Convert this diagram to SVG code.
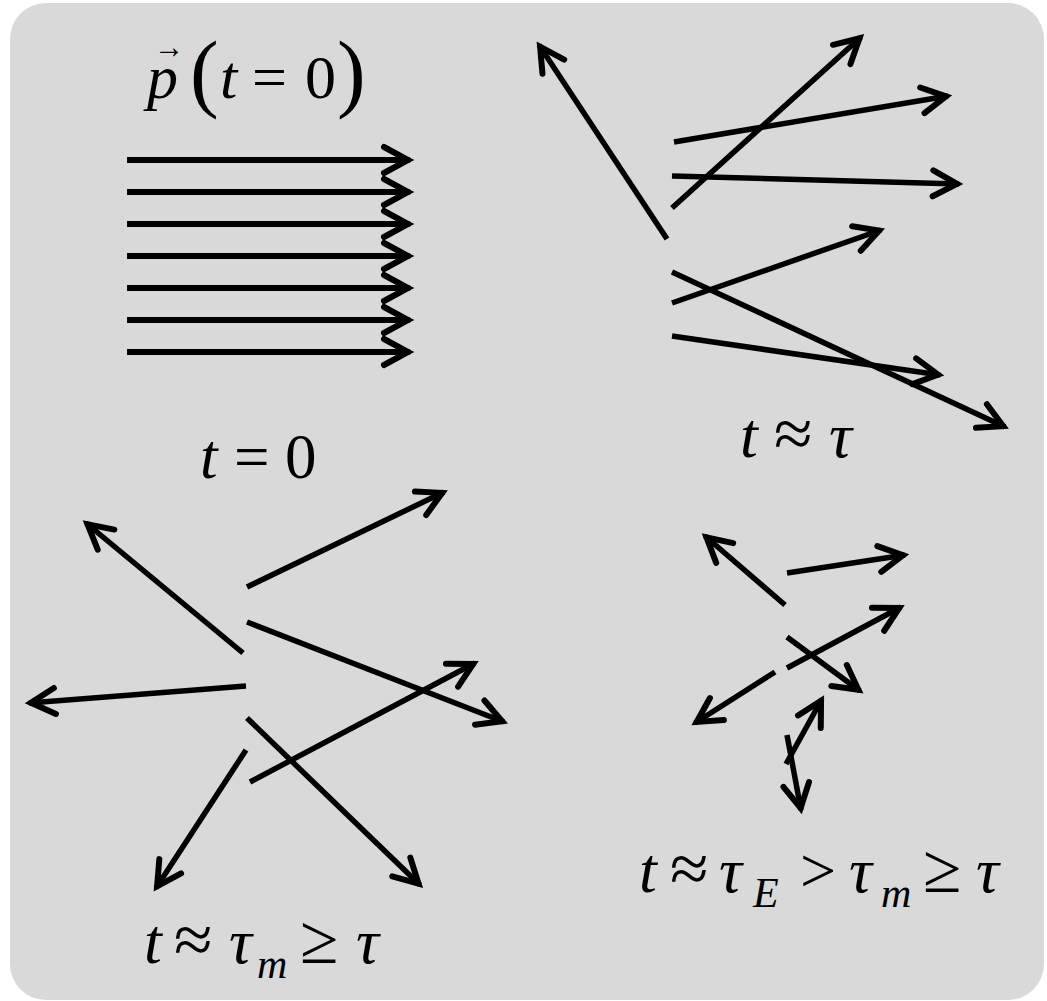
<svg xmlns="http://www.w3.org/2000/svg" width="1047" height="1001" viewBox="0 0 1047 1001">
<defs>
<style>
.a{stroke:#000;stroke-width:5.5;fill:none;marker-end:url(#ah)}
.h{stroke-width:6}
.s{font-family:"Liberation Serif","Times New Roman",serif;fill:#000}
.i{font-style:italic}
.r{font-size:70px}
</style>
<marker id="ah" markerUnits="userSpaceOnUse" orient="auto" overflow="visible" markerWidth="30" markerHeight="30" refX="0" refY="0">
<path d="M-26,-13 L-2,0 L-26,13" fill="none" stroke="#000" stroke-width="6" stroke-linejoin="miter" stroke-linecap="round"/>
</marker>
</defs>
<rect id="background" x="10" y="3" width="1034" height="997" rx="36" ry="36" fill="#d9d9d9"/>

<g id="connectors">
<g id="initial">
<line class="a h" x1="127" y1="160" x2="410" y2="160"/>
<line class="a h" x1="127" y1="192" x2="410" y2="192"/>
<line class="a h" x1="127" y1="224" x2="410" y2="224"/>
<line class="a h" x1="127" y1="256" x2="410" y2="256"/>
<line class="a h" x1="127" y1="288" x2="410" y2="288"/>
<line class="a h" x1="127" y1="320" x2="410" y2="320"/>
<line class="a h" x1="127" y1="352" x2="410" y2="352"/>
</g>
<g id="tau">
<line class="a" x1="667" y1="239" x2="539" y2="45"/>
<line class="a" x1="672" y1="208" x2="861" y2="37"/>
<line class="a" x1="674" y1="142" x2="948" y2="96"/>
<line class="a" x1="672" y1="176" x2="959" y2="184"/>
<line class="a" x1="672" y1="303" x2="881" y2="230"/>
<line class="a" x1="672" y1="272" x2="1005" y2="427"/>
<line class="a" x1="672" y1="336" x2="940" y2="375"/>
</g>
<g id="taum">
<line class="a" x1="243" y1="653" x2="86" y2="523"/>
<line class="a" x1="247" y1="587" x2="444" y2="492"/>
<line class="a" x1="247" y1="622" x2="504" y2="722"/>
<line class="a" x1="246" y1="686" x2="29" y2="703"/>
<line class="a" x1="247" y1="718" x2="420" y2="885"/>
<line class="a" x1="246" y1="750" x2="156" y2="888"/>
<line class="a" x1="250" y1="782" x2="475" y2="663"/>
</g>
<g id="tauE">
<line class="a" x1="785" y1="605" x2="705" y2="536"/>
<line class="a" x1="787" y1="573" x2="905" y2="555"/>
<line class="a" x1="787" y1="668" x2="901" y2="607"/>
<line class="a" x1="775" y1="672" x2="695" y2="723"/>
<line class="a" x1="787" y1="637" x2="860" y2="691"/>
<line class="a" x1="787" y1="735" x2="801" y2="810"/>
<line class="a" x1="786" y1="764" x2="822" y2="699"/>
</g>
</g>

<g id="label-p0" class="s">
<text class="i" x="147" y="98" font-size="62">p</text>
<text x="154" y="58" font-size="34" textLength="30" lengthAdjust="spacingAndGlyphs">→</text>
<text x="190" y="101" font-size="86">(</text>
<text class="i" x="220" y="98" font-size="62">t</text>
<text x="252" y="98" font-size="62">=</text>
<text x="305" y="98" font-size="62">0</text>
<text x="337" y="101" font-size="86">)</text>
</g>
<g id="label-t0" class="s" font-size="63">
<text class="i" x="200" y="478">t</text>
<text x="234" y="478">=</text>
<text x="285" y="478">0</text>
</g>
<g id="label-tau" class="s" font-size="64">
<text class="i" x="740" y="457">t</text>
<text class="r" x="774" y="457">≈</text>
<text class="i" x="829" y="457">τ</text>
</g>
<g id="label-taum" class="s" font-size="64">
<text class="i" x="144" y="963">t</text>
<text class="r" x="174" y="963">≈</text>
<text class="i" x="229" y="963">τ</text>
<text class="i" x="257" y="978" font-size="42">m</text>
<text class="r" x="300" y="963">≥</text>
<text class="i" x="356" y="963">τ</text>
</g>
<g id="label-tauE" class="s" font-size="64">
<text class="i" x="639" y="892">t</text>
<text class="r" x="670" y="892">≈</text>
<text class="i" x="719" y="892">τ</text>
<text class="i" x="753" y="907" font-size="42">E</text>
<text x="800" y="892">&gt;</text>
<text class="i" x="849" y="892">τ</text>
<text class="i" x="881" y="907" font-size="42">m</text>
<text class="r" x="923" y="892">≥</text>
<text class="i" x="976" y="892">τ</text>
</g>
</svg>
